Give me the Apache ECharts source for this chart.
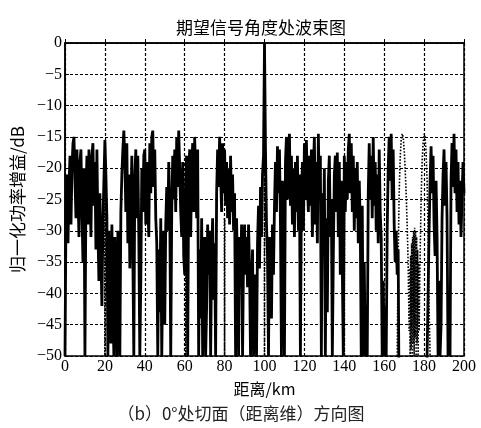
<!DOCTYPE html>
<html><head><meta charset="utf-8">
<script src="https://cdn.jsdelivr.net/npm/echarts@6/dist/echarts.min.js"></script>
<style>html,body{margin:0;padding:0;background:#fff;}#c{width:481px;height:428px;}</style>
</head><body><div id="c"></div>
<script>
var titleText = '期望信号角度处波束图';
var captionText = '（b）0°处切面（距离维）方向图';
var xName = '距离/km';
var yName = '归一化功率增益/dB';
var xTicks = [0,20,40,60,80,100,120,140,160,180,200];
var yTicks = [-50,-45,-40,-35,-30,-25,-20,-15,-10,-5,0];

// solid series: gain at every 0.5 km from 0 to 200 (values below -50 are off-scale)
var solidStep = 0.5;
var solidGain = [
-50,-27,-21,-32,-23,-18,-29,-20,-16,-15,-22,-28,-17,-24,-31,-19,-17,-27,-35,-20,
-50,-24,-18,-29,-17,-23,-31,-18,-16,-26,-19,-33,-17,-30,-38,-24,-34,-42,-29,-22,
-15.5,-21,-28,-50,-30,-38,-48,-29,-42,-50,-31,-40,-50,-30,-45,-50,-27,-21,-17,-14,
-19,-27,-16,-32,-21,-36,-27,-18,-34,-50,-21,-17,-28,-18,-31,-50,-38,-20,-27,-18,
-17,-29,-19,-25,-31,-16,-24,-15,-14,-23,-17,-28,-32,-50,-33,-43,-28,-50,-37,-30,
-45,-29,-23,-30,-19,-26,-50,-27,-18,-25,-17,-27,-15,-23,-14,-20,-27,-31,-19,-34,
-37,-24,-18,-50,-21,-17,-31,-20,-16,-27,-15,-22,-28,-17,-50,-33,-44,-28,-50,-38,
-31,-50,-42,-29,-37,-30,-50,-34,-28,-41,-32,-50,-24,-17,-23,-15,-21,-27,-16,-24,
-17,-26,-19,-28,-20,-29,-18,-27,-21,-30,-24,-50,-28,-37,-50,-31,-39,-29,-50,-34,
-29,-37,-31,-39,-29,-36,-50,-40,-33,-50,-44,-37,-50,-32,-26,-36,-23,-31,-21,-18,
0,-17,-29,-34,-50,-31,-39,-44,-29,-37,-26,-19,-27,-16.5,-24,-17,-29,-50,-22,-35,
-50,-19,-15,-25,-17,-14.5,-26,-18,-29,-20,-31,-19,-27,-18,-30,-21,-50,-25,-19,-30,
-16,-25,-15.5,-23,-27,-18,-26,-17,-31,-20,-15,-29,-19,-32,-14.5,-25,-18,-50,-24,-34,
-20,-50,-28,-43,-22,-18,-31,-25,-50,-34,-21,-18,-27,-17.5,-31,-19,-37,-22,-36,-50,
-18,-27,-19,-25,-17,-14.5,-24,-16,-27,-18,-30,-20,-28,-19,-32,-22,-29,-50,-26,-50,
-35,-50,-42,-50,-24,-16,-25,-18,-28,-15,-26,-19,-30,-21,-32,-17,-27,-31,-50,-38,
-50,-42,-50,-30,-20,-15,-22,-14.5,-25,-17,-29,-35,-30,-37,-33,-60,-60,-60,-60,-60,
-60,-60,-60,-60,-60,-60,-60,-60,-60,-60,-60,-60,-60,-60,-60,-60,-60,-60,-60,-60,
-60,-60,-60,-60,-60,-30,-22,-16.5,-24,-18,-29,-34,-22,-31,-50,-38,-50,-45,-28,-21,
-17,-26,-19,-28,-50,-40,-50,-22,-16,-23,-14.5,-24,-17,-27,-19,-29,-22,-31,-25,-19,
-24
];

// dotted series (null separates pieces)
var dottedDist = [
19.9,20,20.1,null,
60.4,60.5,60.6,null,
79.9,80,80.1,null,
99.9,100,100.1,null,
139.9,140,140.1,null,
166.5,167,167.5,168,168.5,169,169.5,170,170.5,171,171.5,172,172.5,172.75,173,173.25,173.5,173.75,174,174.25,174.5,174.75,175,175.25,175.5,175.75,176,176.25,176.5,176.75,177,177.25,177.5,178,178.5,179,179.5,180,180.5,181,181.5,182,182.5,183
];
var dottedGain = [
-18,-50,-18,null,
-18,-50,-18,null,
-28,-50,-28,null,
0,-50,0,null,
-21,-50,-21,null,
-50,-34,-24,-18.5,-15.5,-14.5,-15,-17,-20,-24,-29,-35,-46,-36,-50,-34,-49,-32,-50,-31,-48,-30,-50,-29.5,-47,-30,-50,-31,-48,-33,-50,-35,-46,-34,-25,-19,-16,-14.5,-15,-17.5,-22,-30,-42,-50
];

var solidData = solidGain.map(function(v,i){ return [i*solidStep, v]; });
var dottedData = dottedDist.map(function(d,i){ return d === null ? '-' : [d, dottedGain[i]]; });

var serif = 'Liberation Serif';
var cjk = 'Noto Sans CJK SC';
function minus(v){ return String(v).replace('-', '\u2212'); }

var chart = echarts.init(document.getElementById('c'), null, {renderer:'canvas'});
chart.setOption({
  animation: false,
  backgroundColor: '#fff',
  textStyle: {fontFamily: serif},
  title: [
    {text: titleText, left: 256, top: 14, textAlign: 'center',
     textStyle:{fontFamily: cjk, fontSize: 17, fontWeight: 'normal', color:'#000'}},
    {text: captionText, left: 236, top: 400, textAlign: 'center',
     textStyle:{fontFamily: cjk, fontSize: 17, fontWeight: 'normal', color:'#222'}}
  ],
  grid: {left: 65, right: 17, top: 43, bottom: 72, containLabel: false, outerBoundsMode: 'none',
         show: true, borderColor:'#000', borderWidth: 1.5, backgroundColor:'#fff'},
  xAxis: {
    type: 'value', min: xTicks[0], max: xTicks[xTicks.length-1], interval: 20,
    name: xName, nameLocation: 'middle', nameGap: 25,
    nameTextStyle: {fontFamily: cjk, fontSize: 16, color:'#000'},
    axisLine: {show: true, lineStyle:{color:'#000', width:1.5}},
    axisTick: {show: true, inside: true, length: 4, lineStyle:{color:'#000'}},
    axisLabel: {fontFamily: serif, fontSize: 16, color:'#000', margin: 3, formatter: minus},
    splitLine: {show: true, lineStyle:{color:'#000', width: 1.2, type:[3,2]}}
  },
  yAxis: {
    type: 'value', min: yTicks[0], max: yTicks[yTicks.length-1], interval: 5,
    name: yName, nameLocation: 'middle', nameGap: 38, nameRotate: 90,
    nameTextStyle: {fontFamily: cjk, fontSize: 17, color:'#000'},
    axisLine: {show: true, lineStyle:{color:'#000', width:1.5}},
    axisTick: {show: true, inside: true, length: 4, lineStyle:{color:'#000'}},
    axisLabel: {fontFamily: serif, fontSize: 16, color:'#000', margin: 3, formatter: minus},
    splitLine: {show: true, lineStyle:{color:'#000', width: 1.2, type:[3,2]}}
  },
  series: [
    {type:'line', data: dottedData, showSymbol:false, connectNulls:false, clip:true, z: 2,
     lineStyle:{color:'#000', width:1.6, type:'dotted'}},
    {type:'line', data: solidData, showSymbol:false, clip:true, z: 3,
     lineStyle:{color:'#000', width:2.8}}
  ]
});
</script></body></html>
